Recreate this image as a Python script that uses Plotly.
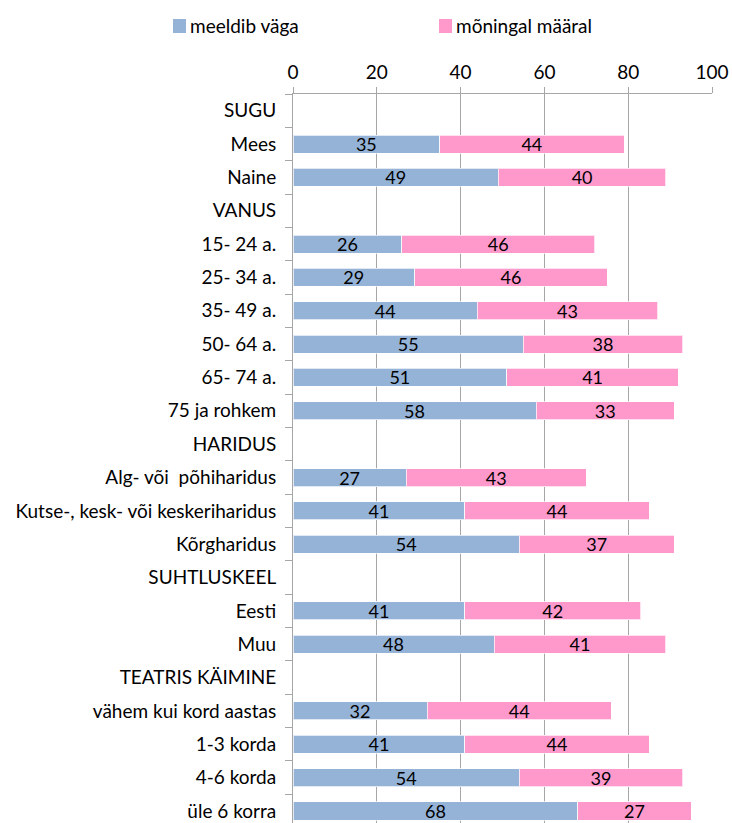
import plotly.graph_objects as go

# Row labels top to bottom; group headers carry no values
categories = [
    "SUGU", "Mees", "Naine",
    "VANUS", "15- 24 a.", "25- 34 a.", "35- 49 a.", "50- 64 a.", "65- 74 a.", "75 ja rohkem",
    "HARIDUS", "Alg- või  põhiharidus", "Kutse-, kesk- või keskeriharidus", "Kõrgharidus",
    "SUHTLUSKEEL", "Eesti", "Muu",
    "TEATRIS KÄIMINE", "vähem kui kord aastas", "1-3 korda", "4-6 korda", "üle 6 korra",
]
meeldib_vaga = [None, 35, 49, None, 26, 29, 44, 55, 51, 58, None, 27, 41, 54, None, 41, 48, None, 32, 41, 54, 68]
moningal_maaral = [None, 44, 40, None, 46, 46, 43, 38, 41, 33, None, 43, 44, 37, None, 42, 41, None, 44, 44, 39, 27]
x_ticks = [0, 20, 40, 60, 80, 100]

series_names = ["meeldib väga", "mõningal määral"]
colors = ["#95B3D7", "#FF99CC"]
FONT = "Lato"

W, H = 732, 823
ML, MR, MT = 293, 20, 94

fig = go.Figure()
for name, vals, col in zip(series_names, [meeldib_vaga, moningal_maaral], colors):
    fig.add_trace(go.Bar(
        y=categories, x=vals, orientation="h", name=name,
        marker=dict(color=col, line=dict(color="rgba(255,255,255,0.7)", width=1)),
        text=[("" if v is None else str(v)) for v in vals],
        textposition="inside", insidetextanchor="middle", textangle=0,
        textfont=dict(color="black", size=18, family=FONT),
        constraintext="none", showlegend=False,
    ))

grid = "#A6A6A6"
fig.update_layout(
    width=W, height=H,
    margin=dict(l=ML, r=MR, t=MT, b=0),
    barmode="stack", bargap=0.46,
    plot_bgcolor="white", paper_bgcolor="white",
    font=dict(family=FONT, size=19, color="black"),
    xaxis=dict(
        side="top", range=[0, 100], tickvals=x_ticks,
        showgrid=True, gridcolor=grid, gridwidth=1,
        showline=True, linecolor=grid, linewidth=1,
        ticks="outside", ticklen=6, tickcolor=grid,
        zeroline=False, tickfont=dict(size=19, color="black"),
    ),
    yaxis=dict(
        type="category", categoryorder="array", categoryarray=categories,
        range=[21.36, -0.5],
        showline=True, linecolor=grid, linewidth=1,
        ticks="outside", tickson="boundaries", ticklen=7, tickcolor=grid,
        showgrid=False, tickfont=dict(size=19, color="black"),
        ticklabelstandoff=12,
    ),
)

# Legend drawn as swatches with labels along the top (page pixel positions)
px_w = W - ML - MR
px_h = H - MT


def fx(p):
    return (p - ML) / px_w


def fy(p):
    return (H - p) / px_h


legend_items = [(173, series_names[0], colors[0]), (439, series_names[1], colors[1])]
for x0, label, col in legend_items:
    fig.add_shape(type="rect", xref="paper", yref="paper",
                  x0=fx(x0), x1=fx(x0 + 13), y0=fy(33), y1=fy(19),
                  fillcolor=col, line=dict(width=0))
    fig.add_annotation(xref="paper", yref="paper", x=fx(x0 + 15), y=fy(25),
                       text=label, showarrow=False, xanchor="left", yanchor="middle",
                       font=dict(size=19, color="black", family=FONT))

fig.write_html("out.html")
